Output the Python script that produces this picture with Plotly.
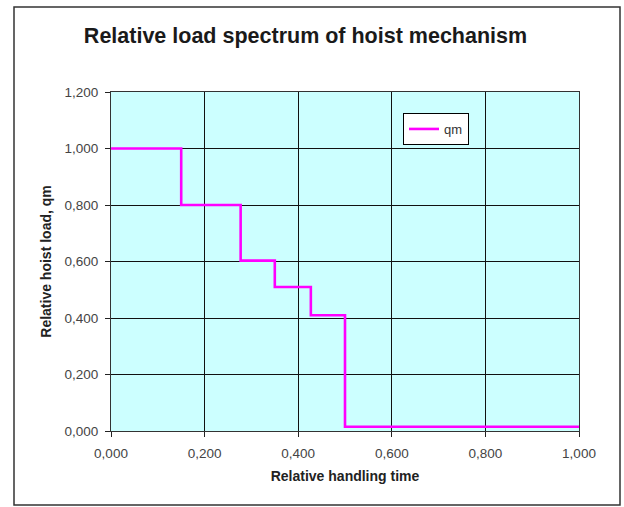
import plotly.graph_objects as go

# Data
time_points = [0.0, 0.15, 0.277, 0.35, 0.427, 0.5, 1.0]
load_qm = [1.0, 0.8, 0.603, 0.51, 0.41, 0.015, 0.015]
series_name = "qm"
x_ticks = [0.0, 0.2, 0.4, 0.6, 0.8, 1.0]
y_ticks = [0.0, 0.2, 0.4, 0.6, 0.8, 1.0, 1.2]

FONT = "Liberation Sans, Arial, sans-serif"

fig = go.Figure()
fig.add_trace(go.Scatter(
    x=time_points, y=load_qm, name=series_name, mode="lines",
    line=dict(color="#FF00FF", width=2.6, shape="hv"),
    showlegend=True,
))

W, H = 624, 507
L, R, T, B = 111, 579, 92, 431

def px2x(px):
    return (px - L) / (R - L)

def py2y(py):
    return (B - py) / (B - T)

fig.update_layout(
    width=W, height=H,
    margin=dict(l=L, r=W - R, t=T, b=H - B),
    paper_bgcolor="white",
    plot_bgcolor="#CCFFFF",
    separators=", ",
    font=dict(family=FONT, size=13.5, color="#444"),
    title=dict(
        text="<b>Relative load spectrum of hoist mechanism</b>",
        font=dict(family=FONT, size=21.5, color="#1a1a1a"),
        x=305.5 / W, xanchor="center", xref="container",
        y=1 - 35 / H, yanchor="middle", yref="container",
    ),
    showlegend=True,
    legend=dict(
        x=px2x(403), y=py2y(113), xanchor="left", yanchor="top",
        bgcolor="white", bordercolor="black", borderwidth=1,
        font=dict(family=FONT, size=13, color="#333"),
        itemwidth=30,
    ),
    xaxis=dict(
        range=[0, 1], tickvals=x_ticks, tickformat=".3f",
        showgrid=True, gridcolor="#111", gridwidth=1,
        showline=True, linecolor="#333", linewidth=1, mirror=True,
        ticks="outside", ticklen=5, tickcolor="#222",
        ticklabelstandoff=5,
        zeroline=False,
        title=dict(text="<b>Relative handling time</b>",
                   font=dict(family=FONT, size=14, color="#222"), standoff=10),
        tickfont=dict(family=FONT, size=13.5, color="#444"),
    ),
    yaxis=dict(
        range=[0, 1.2], tickvals=y_ticks, tickformat=".3f",
        showgrid=True, gridcolor="#111", gridwidth=1,
        showline=True, linecolor="#333", linewidth=1, mirror=True,
        ticks="outside", ticklen=5, tickcolor="#222",
        ticklabelstandoff=4,
        zeroline=False,
        title=dict(text="<b>Relative hoist load, qm</b>",
                   font=dict(family=FONT, size=14, color="#222"), standoff=9),
        tickfont=dict(family=FONT, size=13.5, color="#444"),
    ),
)

# outer chart frame
fig.add_shape(type="rect", xref="paper", yref="paper",
              x0=px2x(14), x1=px2x(620), y0=py2y(505), y1=py2y(7),
              line=dict(color="#333", width=1.5), fillcolor="rgba(0,0,0,0)",
              layer="below")

fig.write_html("out.html")
